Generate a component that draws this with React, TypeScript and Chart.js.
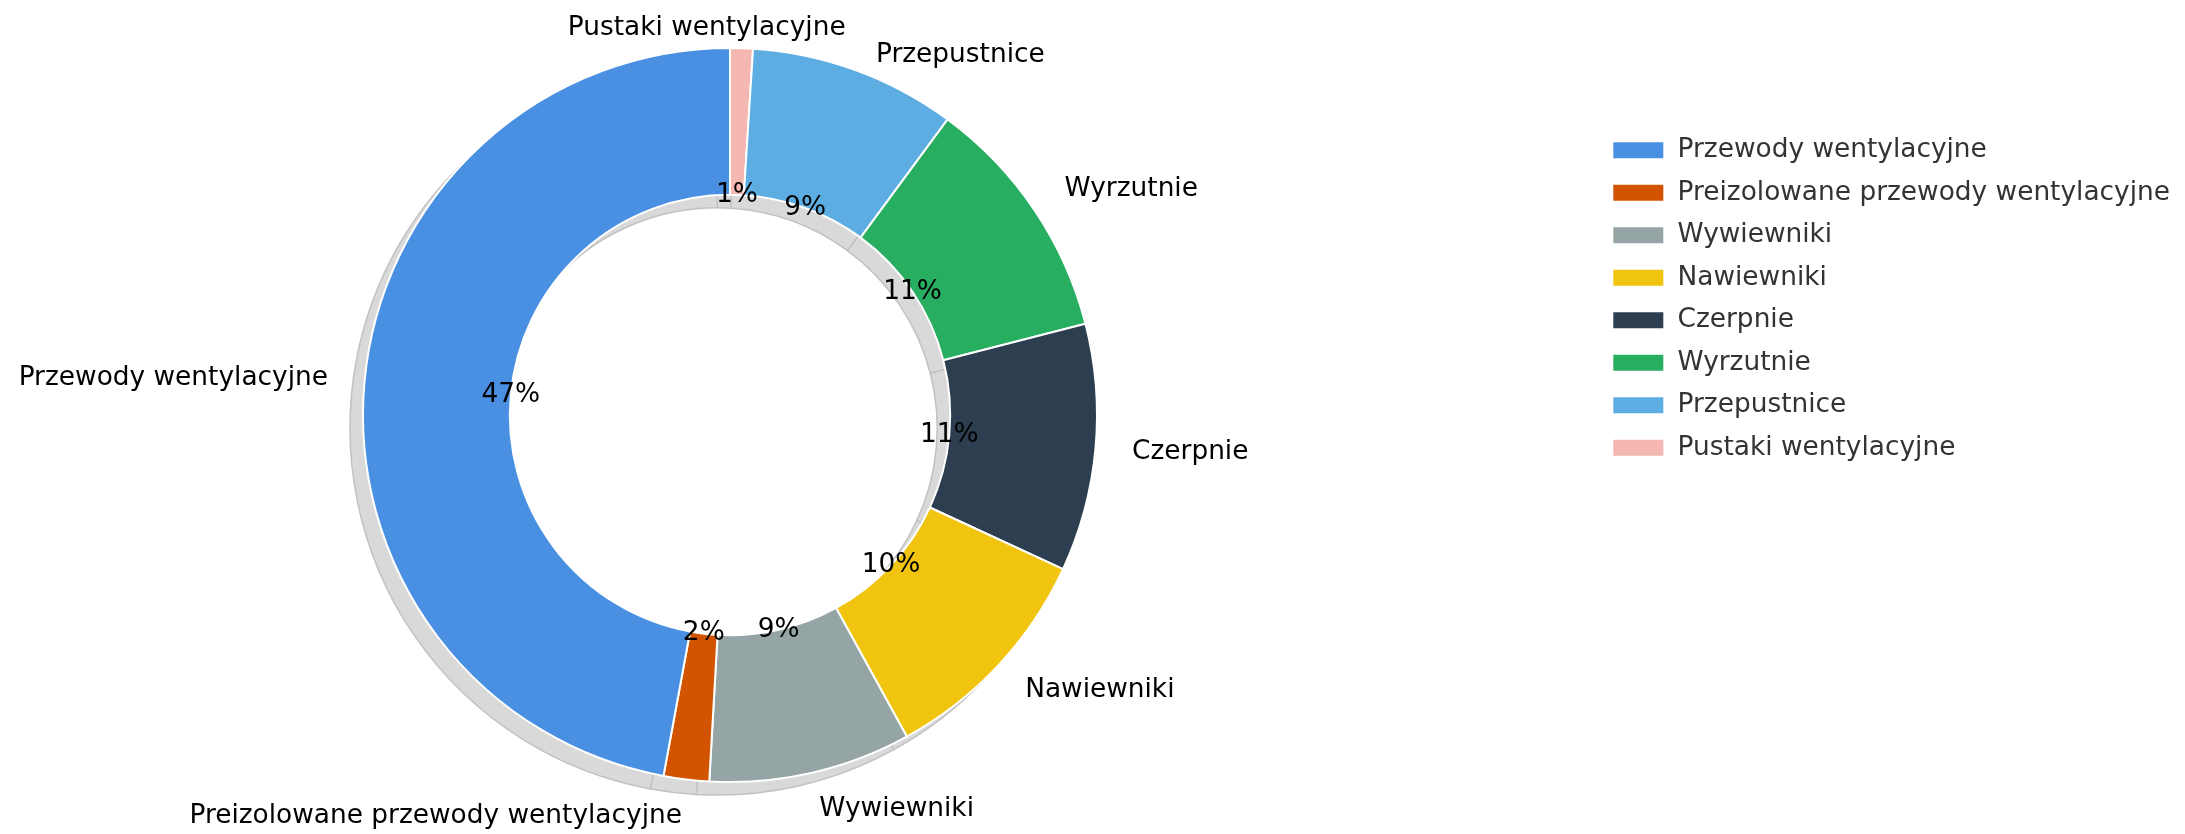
import React, { useEffect, useRef } from 'react';
import { Chart, registerables } from 'chart.js';

Chart.register(...registerables);

// ---- data (legend / category order) ----
const categories = [
  'Przewody wentylacyjne',
  'Preizolowane przewody wentylacyjne',
  'Wywiewniki',
  'Nawiewniki',
  'Czerpnie',
  'Wyrzutnie',
  'Przepustnice',
  'Pustaki wentylacyjne',
];
const shares = [47.1, 2.0, 8.9, 10.1, 10.9, 10.9, 9.1, 1.0];
const colors = ['#4a90e2', '#d35400', '#95a5a6', '#f1c40f', '#2c3e50', '#27ae60', '#5dade2', '#f5b7b1'];

// small nudges for the two crowded labels at the top (px), category order
const labelNudgeX = [0, 0, 0, 0, 0, 0, 8, -36];
const labelNudgeY = [0, 0, 0, 0, 0, 0, 20, 17];
const labelAlign: (string | null)[] = [null, null, null, null, null, null, null, 'center'];

// ---- style / layout ----
const FONT = '"DejaVu Sans", "Noto Sans", sans-serif';
const FS = 26.4;
const CX = 730;
const CY = 415;
const R = 367;
const SHADOW_DX = -13;
const SHADOW_DY = 13;

const N = categories.length;
// chart draws clockwise from the top; the reference runs counter-clockwise, so feed reversed
const dsLabels = categories.slice().reverse();
const dsData = shares.slice().reverse();
const dsColors = colors.slice().reverse();
const catIndex = (i: number) => N - 1 - i;

const areaPlugin = {
  id: 'pieArea',
  afterLayout(chart: any) {
    // +1 on each side: the doughnut controller subtracts the border width
    const h = R + 1;
    chart.chartArea = {
      left: CX - h,
      top: CY - h,
      right: CX + h,
      bottom: CY + h,
      width: 2 * h,
      height: 2 * h,
    };
  },
};

const shadowPlugin = {
  id: 'pieShadow',
  beforeDatasetsDraw(chart: any) {
    const ctx = chart.ctx;
    const meta = chart.getDatasetMeta(0);
    ctx.save();
    meta.data.forEach((arc: any) => {
      const p = arc.getProps(['x', 'y', 'startAngle', 'endAngle', 'innerRadius', 'outerRadius'], true);
      const x = p.x + SHADOW_DX;
      const y = p.y + SHADOW_DY;
      ctx.beginPath();
      ctx.arc(x, y, p.outerRadius, p.startAngle, p.endAngle);
      ctx.arc(x, y, p.innerRadius, p.endAngle, p.startAngle, true);
      ctx.closePath();
      ctx.fillStyle = '#d9d9d9';
      ctx.fill();
      ctx.strokeStyle = '#c2c2c2';
      ctx.lineWidth = 1.5;
      ctx.stroke();
    });
    ctx.restore();
  },
};

const labelPlugin = {
  id: 'pieLabels',
  afterDatasetsDraw(chart: any) {
    const ctx = chart.ctx;
    const meta = chart.getDatasetMeta(0);
    const data = chart.data.datasets[0].data as number[];
    const total = data.reduce((a, b) => a + b, 0);
    ctx.save();
    ctx.font = `${FS}px ${FONT}`;
    ctx.fillStyle = '#000000';
    ctx.textBaseline = 'middle';
    meta.data.forEach((arc: any, i: number) => {
      const c = catIndex(i);
      const p = arc.getProps(['x', 'y', 'startAngle', 'endAngle', 'outerRadius'], true);
      const mid = (p.startAngle + p.endAngle) / 2;
      const cos = Math.cos(mid);
      const sin = Math.sin(mid);
      const pct = Math.round((data[i] / total) * 100);
      ctx.textAlign = 'center';
      ctx.fillText(`${pct}%`, p.x + cos * 0.6 * p.outerRadius, p.y + sin * 0.6 * p.outerRadius);
      const lx = p.x + cos * 1.1 * p.outerRadius + labelNudgeX[c];
      const ly = p.y + sin * 1.1 * p.outerRadius + labelNudgeY[c];
      ctx.textAlign = (labelAlign[c] || (cos > 0 ? 'left' : 'right')) as CanvasTextAlign;
      ctx.fillText(dsLabels[i], lx, ly);
    });
    ctx.restore();
  },
};

export default function App() {
  const ref = useRef<HTMLCanvasElement | null>(null);

  useEffect(() => {
    if (!ref.current) return;
    Chart.defaults.font.family = FONT;
    const chart = new Chart(ref.current, {
      type: 'doughnut',
      data: {
        labels: dsLabels,
        datasets: [
          {
            data: dsData,
            backgroundColor: dsColors,
            borderColor: '#ffffff',
            borderWidth: 2,
          },
        ],
      },
      options: {
        animation: false,
        responsive: false,
        cutout: '60%',
        rotation: 0,
        layout: { padding: { top: 121, right: 5, bottom: 0, left: 0 } },
        plugins: {
          legend: {
            position: 'right',
            align: 'start',
            reverse: true,
            labels: {
              boxWidth: 52,
              boxHeight: 18,
              padding: 16.1,
              color: '#333333',
              font: { family: FONT, size: FS },
            },
          },
          tooltip: { enabled: false },
        },
      },
      plugins: [areaPlugin, shadowPlugin, labelPlugin],
    } as any);
    return () => chart.destroy();
  }, []);

  return (
    <div style={{ position: 'absolute', left: 0, top: 0, width: 2185, height: 834, background: '#ffffff' }}>
      <canvas ref={ref} width={2185} height={834} style={{ display: 'block' }} />
    </div>
  );
}
